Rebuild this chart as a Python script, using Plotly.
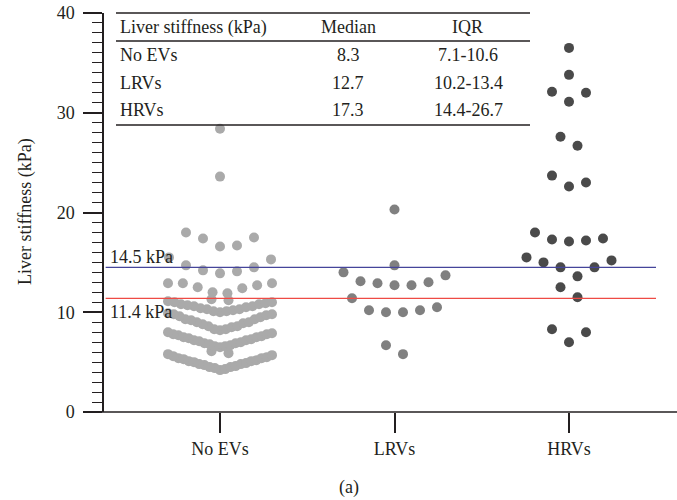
import plotly.graph_objects as go

# ---------------- data ----------------
categories = ["No EVs", "LRVs", "HRVs"]

no_evs = [
    4.2, 4.3, 4.4, 4.5, 4.5, 4.6, 4.7, 4.8, 4.8, 4.9, 5.0, 5.1, 5.1, 5.2, 5.3, 5.4, 5.4, 5.5, 5.6, 5.7, 5.8,
    5.9, 6.1,
    6.5, 6.6, 6.6, 6.7, 6.8, 6.9, 6.9, 7.0, 7.1, 7.2, 7.2, 7.3, 7.4, 7.5, 7.5, 7.6, 7.7, 7.8, 7.8, 7.9, 8.0,
    8.2, 8.3, 8.3, 8.5, 8.6, 8.6, 8.8, 8.9, 9.0, 9.0, 9.2, 9.3, 9.3, 9.5, 9.6, 9.7, 9.8, 9.8, 9.9,
    10.0, 10.1, 10.1, 10.2, 10.3, 10.3, 10.4, 10.5, 10.6, 10.6, 10.7, 10.8, 10.8, 10.9, 11.0, 11.0, 11.1,
    11.2, 11.3,
    11.9, 12.0, 12.4, 12.5, 12.7, 12.9, 12.9, 12.9,
    13.9, 14.1, 14.2, 14.5, 14.7, 15.3, 15.5,
    16.6, 16.7, 17.4, 17.5, 18.0,
    23.6, 28.4,
]
lrvs = [5.8, 6.7, 10.0, 10.0, 10.2, 10.2, 10.5, 11.4, 12.7, 12.7, 12.9, 13.0, 13.1,
        13.7, 14.0, 14.7, 20.3]
hrvs = [7.0, 8.0, 8.3, 11.5, 12.5, 13.6, 14.5, 14.5, 15.0, 15.2, 15.5, 17.1, 17.2,
        17.3, 17.4, 18.0, 22.6, 23.0, 23.7, 26.7, 27.6, 31.1, 32.0, 32.1, 33.8, 36.5]

thresholds = [14.5, 11.4]
threshold_labels = ["14.5 kPa", "11.4 kPa"]

table_header = ["Liver stiffness (kPa)", "Median", "IQR"]
table_groups = ["No EVs", "LRVs", "HRVs"]
table_median = ["8.3", "12.7", "17.3"]
table_iqr = ["7.1-10.6", "10.2-13.4", "14.4-26.7"]

y_ticks = [0, 10, 20, 30, 40]

# ---------------- layout helpers ----------------
FONT = "Liberation Serif"
FS = 18
INK = "#231f20"
colors = ["#aaaaaa", "#808080", "#4a4a4a"]
row_edges = [
    [0, 5.85, 6.45, 8.1, 9.95, 11.15, 11.6, 13.5, 16, 20, 26, 40],
    [0, 8, 12, 14.5, 17, 40],
    [0, 10, 13.0, 16, 20, 25, 29, 33, 35, 40],
]
PX_PER_CAT = 174.5
W, H = 677, 500
ML, MR, MT, MB = 104, 21, 13, 88
PW = W - ML - MR
PH = H - MT - MB


def px_x(px):
    return (px - ML) / PW


def px_y(py):
    return (H - MB - py) / PH


def swarm(vals, edges, spacing=17.0, half=52.0):
    rows = {}
    for v in vals:
        for i in range(len(edges) - 1):
            if edges[i] <= v < edges[i + 1]:
                rows.setdefault(i, []).append(v)
                break
    xs, ys = [], []
    for i in sorted(rows):
        row = sorted(rows[i])
        n = len(row)
        s = spacing if n <= 1 else min(spacing, 2 * half / (n - 1))
        for k, v in enumerate(row):
            if n % 2 == 1:
                if k == 0:
                    off = 0.0
                else:
                    m = (k + 1) // 2
                    off = m * s if k % 2 == 1 else -m * s
            else:
                m = k // 2
                off = (m + 0.5) * s * (1 if k % 2 == 0 else -1)
            xs.append(off)
            ys.append(v)
    return xs, ys


fig = go.Figure()
for idx, (vals, col) in enumerate(zip([no_evs, lrvs, hrvs], colors)):
    offs, ys = swarm(vals, row_edges[idx])
    fig.add_trace(go.Scatter(
        x=[idx + o / PX_PER_CAT for o in offs], y=ys, mode="markers",
        marker=dict(size=10, color=col, line=dict(width=0)),
        showlegend=False, hoverinfo="y",
    ))

x_lo = (104 - 220) / PX_PER_CAT
x_hi = x_lo + PW / PX_PER_CAT

shapes = []
shapes.append(dict(type="line", xref="paper", yref="paper", x0=px_x(84), x1=px_x(677),
                   y0=0, y1=0, line=dict(color=INK, width=1.5)))
for t, c in zip(thresholds, ["#45459a", "#ee4b45"]):
    shapes.append(dict(type="line", xref="paper", yref="y", x0=0.003, x1=1, y0=t, y1=t,
                       line=dict(color=c, width=1.3), layer="above"))
for py in [13, 41, 125]:
    shapes.append(dict(type="line", xref="paper", yref="paper", x0=px_x(116), x1=px_x(530),
                       y0=px_y(py), y1=px_y(py), line=dict(color=INK, width=1.3)))

ann = []
tf = dict(family=FONT, size=FS, color=INK)
ann.append(dict(text=table_header[0], x=px_x(118), xanchor="left", y=px_y(27)))
ann.append(dict(text=table_header[1], x=px_x(348), xanchor="center", y=px_y(27)))
ann.append(dict(text=table_header[2], x=px_x(467), xanchor="center", y=px_y(27)))
for g, med, iqr, py in zip(table_groups, table_median, table_iqr, [55, 83, 110]):
    ann.append(dict(text=g, x=px_x(118), xanchor="left", y=px_y(py)))
    ann.append(dict(text=med, x=px_x(348), xanchor="center", y=px_y(py)))
    ann.append(dict(text=iqr, x=px_x(468), xanchor="center", y=px_y(py)))
for lab, py in zip(threshold_labels, [257, 312]):
    ann.append(dict(text=lab, x=px_x(108), xanchor="left", y=px_y(py)))
ann.append(dict(text="Liver stiffness (kPa)", x=px_x(25), xanchor="center", y=px_y(212),
                textangle=-90))
ann.append(dict(text="(a)", x=px_x(349), xanchor="center", y=px_y(487)))
for a in ann:
    a.update(xref="paper", yref="paper", yanchor="middle", showarrow=False, font=tf)

fig.update_layout(
    width=W, height=H,
    margin=dict(l=ML, r=MR, t=MT, b=MB, autoexpand=False),
    paper_bgcolor="white", plot_bgcolor="white",
    font=dict(family=FONT, size=FS, color=INK),
    shapes=shapes, annotations=ann,
    xaxis=dict(range=[x_lo, x_hi], tickvals=[0, 1, 2], ticktext=categories,
               ticks="outside", ticklen=20, tickwidth=1.5, tickcolor=INK, automargin=False,
               showline=False, showgrid=False, zeroline=False, ticklabeloverflow="allow",
               tickfont=dict(family=FONT, size=FS, color=INK)),
    yaxis=dict(range=[0, 40], tickvals=y_ticks, ticks="outside", ticklen=19,
               tickwidth=1.5, tickcolor=INK, showline=True, linewidth=1.5, linecolor=INK,
               showgrid=False, zeroline=False, automargin=False, ticklabelstandoff=5,
               ticklabeloverflow="allow",
               minor=dict(dtick=1, ticklen=10, tickwidth=1.2, ticks="outside", tickcolor=INK),
               tickfont=dict(family=FONT, size=FS, color=INK)),
)

fig.write_html("out.html", config={"displayModeBar": False},
               post_script="document.body.style.margin='0px';")
